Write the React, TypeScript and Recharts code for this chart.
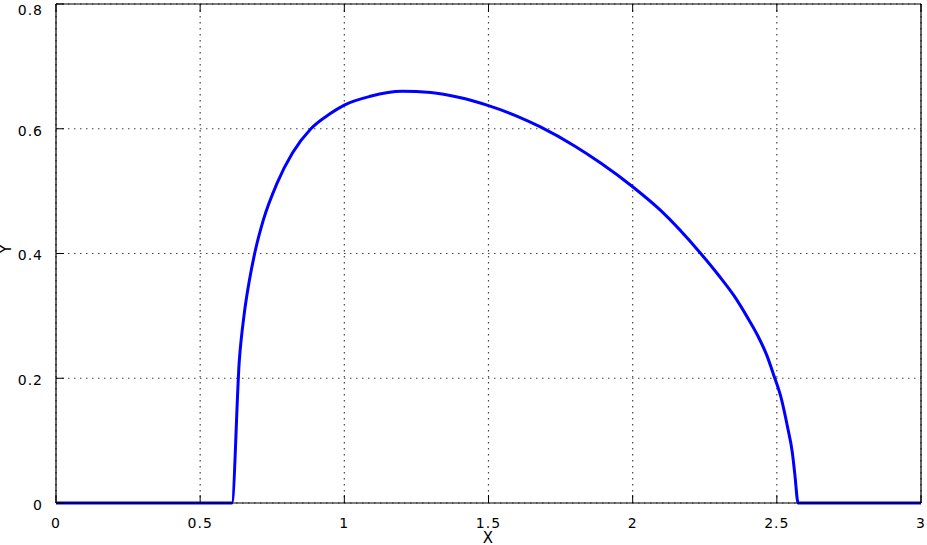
import React from 'react';
import { LineChart, Line, XAxis, YAxis, CartesianGrid } from 'recharts';

const xValues = [0, 0.61, 0.636, 0.653, 0.67, 0.689, 0.72, 0.766, 0.82, 0.884, 0.95, 1.0, 1.09, 1.2, 1.3, 1.4, 1.5, 1.6, 1.68, 1.8, 1.889, 2.0, 2.097, 2.236, 2.3, 2.352, 2.4, 2.433, 2.465, 2.49, 2.514, 2.537, 2.554, 2.562, 2.574, 3.0];
const yValues = [0, 0, 0.23, 0.304, 0.355, 0.4, 0.455, 0.512, 0.561, 0.6, 0.624, 0.638, 0.652, 0.66, 0.658, 0.65, 0.637, 0.62, 0.603, 0.572, 0.545, 0.507, 0.469, 0.4, 0.364, 0.332, 0.296, 0.269, 0.237, 0.204, 0.17, 0.122, 0.08, 0.048, 0, 0];
const xTicks = [0, 0.5, 1, 1.5, 2, 2.5, 3];
const yTicks = [0, 0.2, 0.4, 0.6, 0.8];

const data = xValues.map((x, i) => ({ x, y: yValues[i] }));

const font = { fontFamily: 'DejaVu Sans', fontSize: 14, letterSpacing: 1, fill: '#000' };
const noTick = () => <g />;

export default function App() {
  return (
    <div style={{ position: 'absolute', left: 0, top: 0, background: '#fff' }}>
      <LineChart width={927} height={545} data={data} margin={{ top: 0, right: 0, bottom: 0, left: 0 }}>
        <CartesianGrid stroke="#444" strokeDasharray="1.5 4.5" strokeWidth={1.2} verticalValues={xTicks} horizontalValues={yTicks} />
        <XAxis
          dataKey="x"
          type="number"
          domain={[0, 3]}
          ticks={xTicks}
          height={42}
          tickSize={-8}
          tickMargin={23}
          tick={font}
          stroke="#000"
          axisLine={{ stroke: '#000', strokeWidth: 1.2 }}
          tickLine={{ stroke: '#000' }}
          label={{ value: 'X', position: 'insideBottom', offset: 2, style: { ...font, fontSize: 15 } }}
        />
        <XAxis
          xAxisId="top"
          orientation="top"
          dataKey="x"
          type="number"
          domain={[0, 3]}
          ticks={xTicks}
          height={4}
          tickSize={-8}
          tick={noTick}
          axisLine={{ stroke: '#000', strokeWidth: 1.2 }}
          tickLine={{ stroke: '#000' }}
        />
        <YAxis
          type="number"
          domain={[0, 0.8]}
          ticks={yTicks}
          width={56}
          tickSize={-8}
          tickMargin={21}
          tick={{ ...font, dy: 2 }}
          axisLine={{ stroke: '#000', strokeWidth: 1.2 }}
          tickLine={{ stroke: '#000' }}
          label={{ value: 'Y', angle: -90, position: 'insideLeft', offset: 6, style: { ...font, fontSize: 15 } }}
        />
        <YAxis
          yAxisId="right"
          orientation="right"
          type="number"
          domain={[0, 0.8]}
          ticks={yTicks}
          width={6}
          tickSize={-8}
          tick={noTick}
          axisLine={{ stroke: '#000', strokeWidth: 1.2 }}
          tickLine={{ stroke: '#000' }}
        />
        <Line
          type="monotone"
          dataKey="y"
          stroke="#0000ff"
          strokeWidth={3}
          dot={false}
          isAnimationActive={false}
        />
      </LineChart>
    </div>
  );
}
